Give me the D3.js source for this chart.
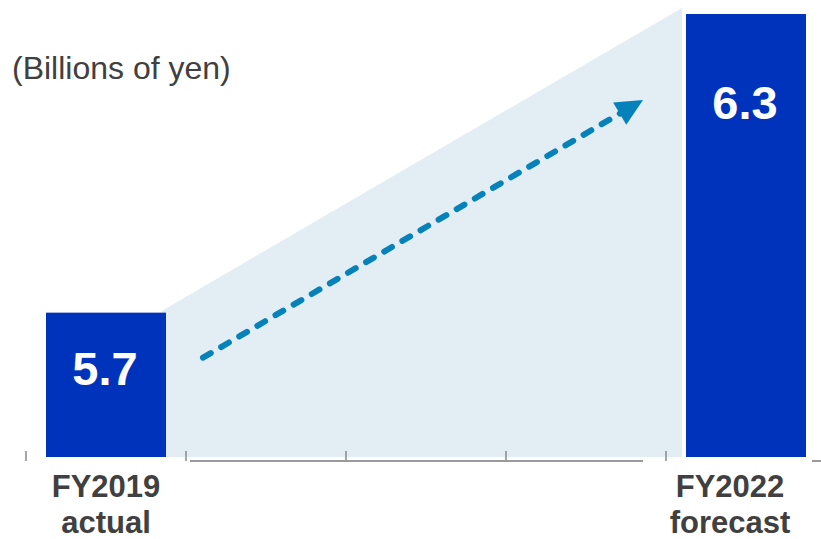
<!DOCTYPE html>
<html>
<head>
<meta charset="utf-8">
<script src="https://cdn.jsdelivr.net/npm/d3@7"></script>
<style>
  html, body { margin: 0; padding: 0; background: #ffffff; }
  svg { display: block; font-family: "Liberation Sans", Arial, sans-serif; }
</style>
</head>
<body>
<svg id="chart" width="821" height="539"></svg>
<script>
// ---- data ----
const slots = ["FY2019", "s1", "s2", "s3", "FY2022"];
const categories = ["FY2019", "FY2022"];
const subLabels = ["actual", "forecast"];
const values = [5.7, 6.3];
const unitLabel = "(Billions of yen)";

// ---- layout ----
const W = 821, H = 539;
const baseY = 457;
const svg = d3.select("#chart");

const x = d3.scaleBand()
  .domain(slots)
  .range([26, 826])
  .paddingInner(0.25)
  .paddingOuter(0.125);

const y = d3.scaleLinear()
  .domain([5.41, 6.3])
  .range([baseY, 14]);

const bw = x.bandwidth();
const step = x.step();

// ---- shaded growth area ----
const x1r = x(categories[0]) + bw;
const x2l = x(categories[1]);
const shade = [
  [x1r - 4, y(values[0]) - 2],
  [x2l - 4, y(values[1]) - 6],
  [x2l - 4, baseY],
  [x1r, baseY]
];
svg.append("polygon")
  .attr("points", shade.map(p => p.join(",")).join(" "))
  .attr("fill", "#e2edf4");

// ---- axis ticks & line ----
const tickXs = d3.range(slots.length + 1).map(i => 26 + i * step);
svg.append("g").selectAll("line")
  .data(tickXs)
  .join("line")
  .attr("x1", d => d).attr("x2", d => d)
  .attr("y1", 451).attr("y2", 461)
  .attr("stroke", "#8a8a8a")
  .attr("stroke-width", 1.5);

svg.append("line")
  .attr("x1", tickXs[1] + 4).attr("x2", tickXs[4] - 23)
  .attr("y1", 461).attr("y2", 461)
  .attr("stroke", "#9a9a9a").attr("stroke-width", 2);
svg.append("line")
  .attr("x1", x2l + bw + 6).attr("x2", W)
  .attr("y1", 461).attr("y2", 461)
  .attr("stroke", "#9a9a9a").attr("stroke-width", 2);

// ---- bars ----
svg.append("g").selectAll("rect")
  .data(values)
  .join("rect")
  .attr("x", (d, i) => x(categories[i]))
  .attr("y", d => y(d))
  .attr("width", bw)
  .attr("height", d => baseY - y(d))
  .attr("fill", "#0033bb");

// ---- value labels ----
const valDy = [72, 105];
svg.append("g").selectAll("text")
  .data(values)
  .join("text")
  .attr("x", (d, i) => x(categories[i]) + bw / 2 - 1)
  .attr("y", (d, i) => y(d) + valDy[i])
  .attr("text-anchor", "middle")
  .attr("font-size", 47)
  .attr("font-weight", "bold")
  .attr("fill", "#ffffff")
  .text(d => d.toFixed(1));

// ---- category labels ----
const labDx = [0, -16];
const labs = svg.append("g").selectAll("text")
  .data(categories)
  .join("text")
  .attr("text-anchor", "middle")
  .attr("font-size", 31)
  .attr("font-weight", "bold")
  .attr("fill", "#404040");
labs.append("tspan")
  .attr("x", (d, i) => x(d) + bw / 2 + labDx[i])
  .attr("y", 497)
  .text(d => d);
labs.append("tspan")
  .attr("x", (d, i) => x(d) + bw / 2 + labDx[i])
  .attr("y", 533)
  .text((d, i) => subLabels[i]);

// ---- unit label ----
svg.append("text")
  .attr("x", 12)
  .attr("y", 79)
  .attr("font-size", 32)
  .attr("fill", "#404040")
  .text(unitLabel);

// ---- dashed arrow ----
const start = [x1r + 37, y(values[0]) + 45];
const tip = [x2l - 43, y(values[1]) + 86];
const dx = tip[0] - start[0], dy = tip[1] - start[1];
const len = Math.hypot(dx, dy);
const ux = dx / len, uy = dy / len;
const headLen = 27, headHalf = 13;
const base = [tip[0] - ux * headLen, tip[1] - uy * headLen];
svg.append("line")
  .attr("x1", start[0]).attr("y1", start[1])
  .attr("x2", base[0] + ux * 2).attr("y2", base[1] + uy * 2)
  .attr("stroke", "#0582ba")
  .attr("stroke-width", 6)
  .attr("stroke-linecap", "round")
  .attr("stroke-dasharray", "9,12");
const px = -uy, py = ux;
svg.append("polygon")
  .attr("points", [
    tip,
    [base[0] + px * headHalf, base[1] + py * headHalf],
    [base[0] - px * headHalf, base[1] - py * headHalf]
  ].map(p => p.join(",")).join(" "))
  .attr("fill", "#0582ba");
</script>
</body>
</html>
